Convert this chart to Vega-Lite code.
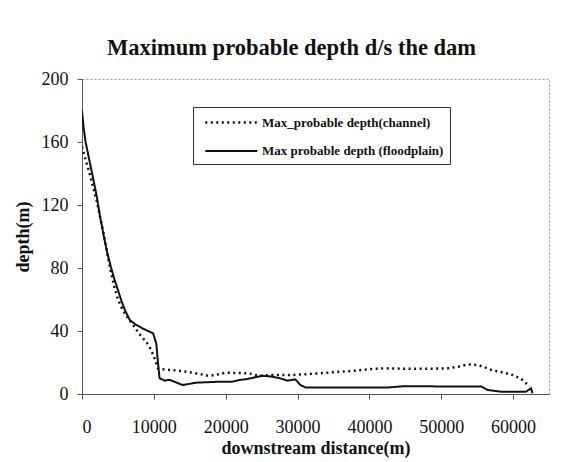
{
  "$schema": "https://vega.github.io/schema/vega-lite/v6.json",
  "width": 467,
  "height": 315,
  "autosize": {"type": "none"},
  "padding": {"left": 82, "top": 79, "right": 21, "bottom": 68},
  "background": "white",
  "title": {
    "text": "Maximum probable depth d/s the dam",
    "font": "Liberation Serif",
    "fontSize": 22.5,
    "fontWeight": "bold",
    "color": "#111",
    "anchor": "middle",
    "frame": "group",
    "dx": -24,
    "offset": 11
  },
  "config": {
    "view": {"stroke": "#999", "strokeWidth": 1, "strokeDash": [2, 2]},
    "axis": {
      "labelFont": "Liberation Serif",
      "labelFontSize": 18,
      "labelColor": "#111",
      "titleFont": "Liberation Serif",
      "titleFontSize": 18,
      "titleFontWeight": "bold",
      "titleColor": "#111",
      "domainColor": "#555",
      "tickColor": "#555",
      "grid": false
    }
  },
  "data": {
    "values": [
      {"series": "Max_probable depth(channel)", "d": 0, "depth": 157},
      {"series": "Max_probable depth(channel)", "d": 550, "depth": 148},
      {"series": "Max_probable depth(channel)", "d": 1000, "depth": 141},
      {"series": "Max_probable depth(channel)", "d": 1500, "depth": 132},
      {"series": "Max_probable depth(channel)", "d": 2030, "depth": 123},
      {"series": "Max_probable depth(channel)", "d": 2500, "depth": 113},
      {"series": "Max_probable depth(channel)", "d": 3000, "depth": 102},
      {"series": "Max_probable depth(channel)", "d": 3500, "depth": 90},
      {"series": "Max_probable depth(channel)", "d": 4000, "depth": 78},
      {"series": "Max_probable depth(channel)", "d": 4500, "depth": 68},
      {"series": "Max_probable depth(channel)", "d": 5000, "depth": 60},
      {"series": "Max_probable depth(channel)", "d": 5500, "depth": 55},
      {"series": "Max_probable depth(channel)", "d": 6000, "depth": 51},
      {"series": "Max_probable depth(channel)", "d": 6500, "depth": 47.5},
      {"series": "Max_probable depth(channel)", "d": 7100, "depth": 44},
      {"series": "Max_probable depth(channel)", "d": 8000, "depth": 38},
      {"series": "Max_probable depth(channel)", "d": 8960, "depth": 33},
      {"series": "Max_probable depth(channel)", "d": 9500, "depth": 29},
      {"series": "Max_probable depth(channel)", "d": 10000, "depth": 24},
      {"series": "Max_probable depth(channel)", "d": 10570, "depth": 16.3},
      {"series": "Max_probable depth(channel)", "d": 11500, "depth": 15.5},
      {"series": "Max_probable depth(channel)", "d": 13000, "depth": 15},
      {"series": "Max_probable depth(channel)", "d": 14500, "depth": 14.2},
      {"series": "Max_probable depth(channel)", "d": 16000, "depth": 13},
      {"series": "Max_probable depth(channel)", "d": 17700, "depth": 11.5},
      {"series": "Max_probable depth(channel)", "d": 19000, "depth": 12.5},
      {"series": "Max_probable depth(channel)", "d": 20000, "depth": 13.5},
      {"series": "Max_probable depth(channel)", "d": 22000, "depth": 13.3},
      {"series": "Max_probable depth(channel)", "d": 23300, "depth": 13},
      {"series": "Max_probable depth(channel)", "d": 24700, "depth": 11.5},
      {"series": "Max_probable depth(channel)", "d": 26000, "depth": 12},
      {"series": "Max_probable depth(channel)", "d": 28800, "depth": 12},
      {"series": "Max_probable depth(channel)", "d": 31000, "depth": 12.5},
      {"series": "Max_probable depth(channel)", "d": 33000, "depth": 13.1},
      {"series": "Max_probable depth(channel)", "d": 35500, "depth": 14},
      {"series": "Max_probable depth(channel)", "d": 38000, "depth": 14.8},
      {"series": "Max_probable depth(channel)", "d": 40000, "depth": 15.8},
      {"series": "Max_probable depth(channel)", "d": 42200, "depth": 16.3},
      {"series": "Max_probable depth(channel)", "d": 45000, "depth": 16},
      {"series": "Max_probable depth(channel)", "d": 48000, "depth": 16},
      {"series": "Max_probable depth(channel)", "d": 51000, "depth": 16.3},
      {"series": "Max_probable depth(channel)", "d": 52500, "depth": 17.5},
      {"series": "Max_probable depth(channel)", "d": 53700, "depth": 18.8},
      {"series": "Max_probable depth(channel)", "d": 55100, "depth": 18.4},
      {"series": "Max_probable depth(channel)", "d": 56000, "depth": 17},
      {"series": "Max_probable depth(channel)", "d": 57000, "depth": 15.2},
      {"series": "Max_probable depth(channel)", "d": 58800, "depth": 13.5},
      {"series": "Max_probable depth(channel)", "d": 60000, "depth": 12},
      {"series": "Max_probable depth(channel)", "d": 61000, "depth": 10},
      {"series": "Max_probable depth(channel)", "d": 61600, "depth": 7.8},
      {"series": "Max_probable depth(channel)", "d": 62300, "depth": 4.7},
      {"series": "Max probable depth (floodplain)", "d": 0, "depth": 180},
      {"series": "Max probable depth (floodplain)", "d": 200, "depth": 170},
      {"series": "Max probable depth (floodplain)", "d": 500, "depth": 160},
      {"series": "Max probable depth (floodplain)", "d": 1000, "depth": 149},
      {"series": "Max probable depth (floodplain)", "d": 1500, "depth": 138},
      {"series": "Max probable depth (floodplain)", "d": 2030, "depth": 126},
      {"series": "Max probable depth (floodplain)", "d": 2500, "depth": 113},
      {"series": "Max probable depth (floodplain)", "d": 3000, "depth": 101},
      {"series": "Max probable depth (floodplain)", "d": 3500, "depth": 90},
      {"series": "Max probable depth (floodplain)", "d": 4000, "depth": 81},
      {"series": "Max probable depth (floodplain)", "d": 4500, "depth": 73},
      {"series": "Max probable depth (floodplain)", "d": 5000, "depth": 66},
      {"series": "Max probable depth (floodplain)", "d": 5500, "depth": 59},
      {"series": "Max probable depth (floodplain)", "d": 6000, "depth": 53},
      {"series": "Max probable depth (floodplain)", "d": 6650, "depth": 47},
      {"series": "Max probable depth (floodplain)", "d": 7500, "depth": 44},
      {"series": "Max probable depth (floodplain)", "d": 8500, "depth": 41.5},
      {"series": "Max probable depth (floodplain)", "d": 9200, "depth": 40},
      {"series": "Max probable depth (floodplain)", "d": 9900, "depth": 38.5},
      {"series": "Max probable depth (floodplain)", "d": 10340, "depth": 32},
      {"series": "Max probable depth (floodplain)", "d": 10570, "depth": 20},
      {"series": "Max probable depth (floodplain)", "d": 10800, "depth": 10},
      {"series": "Max probable depth (floodplain)", "d": 11500, "depth": 8.5},
      {"series": "Max probable depth (floodplain)", "d": 12200, "depth": 9},
      {"series": "Max probable depth (floodplain)", "d": 13000, "depth": 7.5},
      {"series": "Max probable depth (floodplain)", "d": 14000, "depth": 5.7},
      {"series": "Max probable depth (floodplain)", "d": 15900, "depth": 7.2},
      {"series": "Max probable depth (floodplain)", "d": 19100, "depth": 7.8},
      {"series": "Max probable depth (floodplain)", "d": 20900, "depth": 7.8},
      {"series": "Max probable depth (floodplain)", "d": 21900, "depth": 8.9},
      {"series": "Max probable depth (floodplain)", "d": 23000, "depth": 9.5},
      {"series": "Max probable depth (floodplain)", "d": 25100, "depth": 11.6},
      {"series": "Max probable depth (floodplain)", "d": 26500, "depth": 11},
      {"series": "Max probable depth (floodplain)", "d": 27500, "depth": 10},
      {"series": "Max probable depth (floodplain)", "d": 28600, "depth": 8.5},
      {"series": "Max probable depth (floodplain)", "d": 29700, "depth": 9.3},
      {"series": "Max probable depth (floodplain)", "d": 30400, "depth": 5.7},
      {"series": "Max probable depth (floodplain)", "d": 31100, "depth": 4.2},
      {"series": "Max probable depth (floodplain)", "d": 35000, "depth": 4.2},
      {"series": "Max probable depth (floodplain)", "d": 42700, "depth": 4.2},
      {"series": "Max probable depth (floodplain)", "d": 45000, "depth": 5},
      {"series": "Max probable depth (floodplain)", "d": 50000, "depth": 4.8},
      {"series": "Max probable depth (floodplain)", "d": 55600, "depth": 4.7},
      {"series": "Max probable depth (floodplain)", "d": 56500, "depth": 2.5},
      {"series": "Max probable depth (floodplain)", "d": 58300, "depth": 1.5},
      {"series": "Max probable depth (floodplain)", "d": 61800, "depth": 1.5},
      {"series": "Max probable depth (floodplain)", "d": 62500, "depth": 3.6},
      {"series": "Max probable depth (floodplain)", "d": 62700, "depth": 0.5}
    ]
  },
  "mark": {"type": "line", "color": "#111", "clip": true},
  "encoding": {
    "x": {
      "field": "d",
      "type": "quantitative",
      "scale": {"domain": [0, 65000], "nice": false},
      "axis": {
        "title": "downstream distance(m)",
        "values": [0, 10000, 20000, 30000, 40000, 50000, 60000],
        "format": "d",
        "tickSize": 5,
        "labelPadding": 19,
        "titlePadding": 3
      }
    },
    "y": {
      "field": "depth",
      "type": "quantitative",
      "scale": {"domain": [0, 200], "nice": false},
      "axis": {
        "title": "depth(m)",
        "values": [0, 40, 80, 120, 160, 200],
        "tickSize": 5,
        "labelPadding": 9,
        "titlePadding": 9
      }
    },
    "detail": {"field": "series"},
    "strokeDash": {
      "field": "series",
      "type": "nominal",
      "scale": {
        "domain": ["Max_probable depth(channel)", "Max probable depth (floodplain)"],
        "range": [[2, 3.5], [1, 0]]
      },
      "legend": {
        "title": null,
        "orient": "none",
        "legendX": 111,
        "legendY": 28,
        "strokeColor": "#333",
        "fillColor": "white",
        "padding": 6,
        "symbolType": "M-0.4,0H6.1",
        "symbolSize": 256,
        "symbolStrokeColor": "#111",
        "symbolStrokeWidth": 2.5,
        "labelFont": "Liberation Serif",
        "labelFontSize": 13,
        "labelFontWeight": "bold",
        "labelColor": "#111",
        "labelLimit": 400,
        "rowPadding": 12,
        "labelOffset": 44
      }
    },
    "strokeWidth": {
      "field": "series",
      "type": "nominal",
      "scale": {
        "domain": ["Max_probable depth(channel)", "Max probable depth (floodplain)"],
        "range": [2.5, 2]
      },
      "legend": null
    }
  }
}
